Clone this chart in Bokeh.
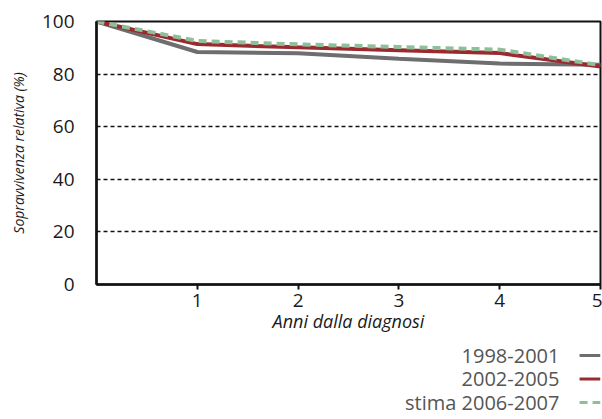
from bokeh.plotting import figure
from bokeh.layouts import column
from bokeh.models import Range1d, FixedTicker, ColumnDataSource
from bokeh.core.properties import value
from bokeh.embed import file_html
from bokeh.resources import INLINE

years = [0, 1, 2, 3, 4, 5]
s_1998_2001 = [100, 88.4, 87.9, 85.8, 84.0, 83.6]
s_2002_2005 = [100, 91.4, 90.2, 89.1, 88.0, 82.9]
s_stima_2006_2007 = [100, 92.6, 91.3, 90.3, 89.3, 83.4]
series_names = ["1998-2001", "2002-2005", "stima 2006-2007"]
x_ticks = [1, 2, 3, 4, 5]
y_ticks = [0, 20, 40, 60, 80, 100]

colors = ["#6e6e6e", "#9b2a30", "#8dbf98"]
dashes = ["solid", "solid", "8 5"]
FONT = "Open Sans"

p = figure(width=602, height=335, output_backend="svg", toolbar_location=None,
           x_range=Range1d(0, 5), y_range=Range1d(0, 100),
           min_border_left=96, min_border_right=2, min_border_top=21,
           min_border_bottom=49)
p.outline_line_color = "#111111"
p.outline_line_width = 2
p.background_fill_color = "white"
p.border_fill_color = "white"

p.xgrid.visible = False
p.ygrid.grid_line_color = "#111111"
p.ygrid.grid_line_dash = "4 3"
p.ygrid.grid_line_width = 1.5

p.xaxis.ticker = FixedTicker(ticks=x_ticks)
p.yaxis.ticker = FixedTicker(ticks=y_ticks)
for ax in (p.xaxis[0], p.yaxis[0]):
    ax.axis_line_color = "#111111"
    ax.axis_line_width = 2.5
    ax.major_label_text_font = FONT
    ax.major_label_text_font_size = "19px"
    ax.major_label_text_color = "#1a1a1a"
    ax.axis_label_text_font = FONT
    ax.axis_label_text_font_style = "italic"
    ax.axis_label_text_color = "#1a1a1a"
    ax.minor_tick_line_color = None
p.xaxis.major_tick_out = 5
p.xaxis.major_tick_in = 0
p.xaxis.major_tick_line_color = "#111111"
p.xaxis.major_tick_line_width = 2
p.xaxis.major_label_standoff = 4
p.xaxis.axis_label = "Anni dalla diagnosi"
p.xaxis.axis_label_text_font_size = "18px"
p.xaxis.axis_label_standoff = -1
p.yaxis.major_tick_out = 0
p.yaxis.major_tick_in = 0
p.yaxis.major_tick_line_color = None
p.yaxis.major_label_standoff = 22
p.yaxis.axis_label = "Sopravvivenza relativa (%)"
p.yaxis.axis_label_text_font_size = "14px"
p.yaxis.axis_label_standoff = 11

for vals, c, d in zip([s_1998_2001, s_2002_2005, s_stima_2006_2007], colors, dashes):
    p.line(years, vals, line_color=c, line_width=4, line_dash=d)

# legend figure (labels to the left of the line samples)
lg = figure(width=602, height=84, output_backend="svg", toolbar_location=None,
            x_range=Range1d(0, 602), y_range=Range1d(2.723, -0.851),
            min_border=0)
lg.axis.visible = False
lg.grid.visible = False
lg.outline_line_color = None
rows = list(range(len(series_names)))
src = ColumnDataSource(dict(name=series_names, row=rows, tx=[553] * len(rows)))
lg.text(x="tx", y="row", text="name", source=src, text_align="right",
        text_baseline="middle", text_font=value(FONT), text_font_size="20px",
        text_color="#555555")
for i in rows:
    lg.segment(x0=[577], y0=[i], x1=[602], y1=[i], line_color=colors[i],
               line_width=3, line_dash=dashes[i])

layout = column(p, lg, spacing=0)
open("out.html", "w").write(file_html(layout, INLINE))
